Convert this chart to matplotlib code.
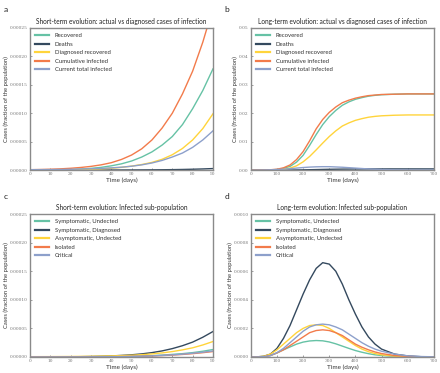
import numpy as np
import matplotlib as mpl
import matplotlib.pyplot as plt

plt.rcParams['font.family'] = ['Lato', 'DejaVu Sans']

# colours (Set2-like palette from the paper figure)
c_teal = '#66c2a5'
c_dark = '#34495e'
c_yellow = '#ffd43b'
c_orange = '#f27b4b'
c_blue = '#8da0cb'

# ---- short-term data, days 0..90 step 5 ----
t_short = list(range(0, 95, 5))
# actual vs diagnosed (panel a), in 1e-6
recovered_s = [0, 0.05, 0.2, 0.5, 1.0, 1.8, 3.0, 4.8, 7.5, 11, 16, 23, 32, 44, 59, 80, 108, 140, 178]
deaths_s = [0, 0, 0, 0.01, 0.02, 0.03, 0.05, 0.08, 0.12, 0.18, 0.26, 0.35, 0.45, 0.6, 0.8, 1.1, 1.5, 2.0, 2.7]
diag_recovered_s = [0, 0.02, 0.1, 0.25, 0.5, 0.9, 1.4, 2.2, 3.3, 4.8, 7, 9.8, 13.5, 19, 27, 38, 53, 73, 99]
cumulative_s = [0.7, 1.0, 1.5, 2.2, 3.2, 4.6, 6.5, 9.2, 13, 18.7, 26.5, 37.5, 53, 74, 100, 134, 174, 225, 285]
current_s = [0.7, 0.8, 0.9, 1.1, 1.4, 1.8, 2.3, 3.0, 3.9, 5.1, 6.8, 9.2, 12.5, 17, 23, 30, 40, 53, 69]
# infected sub-population (panel c), in 1e-6
symp_undet_s = [0.2, 0.22, 0.25, 0.3, 0.35, 0.42, 0.5, 0.62, 0.8, 1.0, 1.3, 1.7, 2.2, 3.2, 4.5, 5.8, 7.6, 10, 13]
symp_diag_s = [0, 0.05, 0.1, 0.2, 0.3, 0.5, 0.8, 1.2, 1.8, 2.7, 3.8, 5.4, 7.6, 10.6, 14.6, 19.7, 26, 34.5, 44.5]
asymp_undet_s = [0.5, 0.55, 0.6, 0.7, 0.8, 1.0, 1.2, 1.5, 1.9, 2.4, 3.0, 4.0, 5.3, 7.1, 9.4, 12.4, 16, 21, 27]
isolated_s = [0, 0.01, 0.02, 0.045, 0.07, 0.12, 0.18, 0.3, 0.45, 0.65, 0.9, 1.25, 1.8, 2.4, 3.3, 4.4, 5.8, 7.5, 9.5]
critical_s = [0, 0.01, 0.02, 0.05, 0.08, 0.13, 0.2, 0.33, 0.5, 0.72, 1.0, 1.4, 2.0, 2.7, 3.7, 4.9, 6.5, 8.3, 10.5]

# ---- long-term data, days ----
t_long = [0, 25, 50, 75, 100, 125, 150, 175, 200, 225, 250, 275, 300, 325, 350, 375, 400,
          425, 450, 475, 500, 550, 600, 650, 700]
recovered_l = [0, 0.000005, 0.00002, 0.00007, 0.0002, 0.0006, 0.0013, 0.0028, 0.0052, 0.0087, 0.0125,
               0.016, 0.0188, 0.021, 0.0228, 0.024, 0.0249, 0.0255, 0.026, 0.0263, 0.0265, 0.0267,
               0.0268, 0.0268, 0.0268]
deaths_l = [0, 0, 0, 0.000001, 0.000003, 0.00001, 0.00002, 0.00005, 0.00008, 0.00013, 0.00018, 0.00023,
            0.00028, 0.00031, 0.00034, 0.00036, 0.00038, 0.00039, 0.0004, 0.0004, 0.00041, 0.00041,
            0.00041, 0.00041, 0.00041]
diag_recovered_l = [0, 0.000002, 0.00001, 0.00004, 0.0001, 0.0003, 0.0007, 0.0015, 0.0029, 0.0048, 0.0071,
                    0.0095, 0.0118, 0.0138, 0.0155, 0.0166, 0.0175, 0.0181, 0.0186, 0.0189, 0.0191,
                    0.0193, 0.0194, 0.0194, 0.0194]
cumulative_l = [0, 0.00001, 0.00004, 0.00012, 0.0003, 0.0008, 0.0018, 0.0037, 0.0065, 0.0103, 0.0145,
                0.0178, 0.0203, 0.0222, 0.0237, 0.0246, 0.0253, 0.0258, 0.0262, 0.0264, 0.0266,
                0.0267, 0.0268, 0.0268, 0.0268]
current_l = [0, 0.00002, 0.00005, 0.0001, 0.0002, 0.00033, 0.0005, 0.0007, 0.0009, 0.00105, 0.00115,
             0.0012, 0.0012, 0.0011, 0.001, 0.00085, 0.0007, 0.00055, 0.0004, 0.0003, 0.0002, 0.0001,
             0.00004, 0.00001, 0]

symp_undet_l = [0, 0.0000005, 0.000003, 0.00001, 0.000028, 0.00005, 0.00007, 0.00009, 0.000104, 0.000112,
                0.000115, 0.000113, 0.000105, 0.000092, 0.000076, 0.00006, 0.000045, 0.000033, 0.000023,
                0.000015, 0.00001, 0.000004, 0.0000015, 0.0000005, 0]
symp_diag_l = [0, 0.000001, 0.000005, 0.00002, 0.00006, 0.00013, 0.00022, 0.00033, 0.00044, 0.00054,
               0.00062, 0.00066, 0.00065, 0.0006, 0.00051, 0.0004, 0.0003, 0.00021, 0.00014, 0.00009,
               0.000055, 0.00002, 0.000007, 0.000002, 0]
asymp_undet_l = [0, 0.000001, 0.000005, 0.00002, 0.00005, 0.00009, 0.00013, 0.00017, 0.0002, 0.00022,
                 0.000225, 0.00022, 0.0002, 0.00017, 0.00014, 0.00011, 0.00008, 0.000055, 0.000037,
                 0.000024, 0.000015, 0.000006, 0.000002, 0.0000005, 0]
isolated_l = [0, 0.0000003, 0.000002, 0.00001, 0.000028, 0.00005, 0.00008, 0.00011, 0.00014, 0.00017,
              0.000185, 0.00019, 0.000185, 0.00017, 0.00015, 0.00012, 0.00009, 0.000068, 0.00005,
              0.000035, 0.000024, 0.00001, 0.000004, 0.000001, 0]
critical_l = [0, 0.0000003, 0.000002, 0.00001, 0.00003, 0.00006, 0.0001, 0.00014, 0.00018, 0.00021,
              0.000225, 0.00023, 0.000225, 0.00021, 0.00019, 0.00016, 0.00013, 0.0001, 0.000075,
              0.000055, 0.00004, 0.00002, 0.000008, 0.000003, 0.000001]

labels_top = ['Recovered', 'Deaths', 'Diagnosed recovered', 'Cumulative infected', 'Current total infected']
labels_bot = ['Symptomatic, Undected', 'Symptomatic, Diagnosed', 'Asymptomatic, Undected', 'Isolated', 'Critical']
colors = [c_teal, c_dark, c_yellow, c_orange, c_blue]

fig = plt.figure(figsize=(4.4, 3.73), dpi=100)
fig.patch.set_facecolor('white')


def setup(ax, title, xlim, xticks, ylim, yticks, yfmt):
    ax.set_xlim(xlim)
    ax.set_ylim(ylim)
    ax.set_xticks(xticks)
    ax.set_yticks(yticks)
    ax.set_xticklabels([str(v) for v in xticks], family='DejaVu Serif', fontsize=3.2, color='#555555')
    ax.set_yticklabels([yfmt % v for v in yticks], family='DejaVu Serif', fontsize=3.2, color='#555555')
    ax.tick_params(direction='in', length=1.5, width=0.5, colors='#777777', pad=1.5)
    for s in ax.spines.values():
        s.set_color('#8a8a8a')
        s.set_linewidth(1.0)
    ax.set_title(title, fontsize=4.7, pad=2.8, color='#222222')
    ax.set_xlabel('Time (days)', fontsize=4.6, labelpad=1, color='#333333')
    ax.set_ylabel('Cases (fraction of the population)', fontsize=4.2, labelpad=0.5, color='#333333')


def draw(ax, t, series, labels, scale=1.0):
    for y, lab, col in zip(series, labels, colors):
        ax.plot(t, np.array(y) * scale, color=col, lw=1.0, label=lab)
    leg = ax.legend(loc='upper left', frameon=False, fontsize=4.3, handlelength=2.4,
                    labelspacing=0.55, borderaxespad=0.45, handletextpad=0.9)
    for h in leg.get_lines():
        h.set_linewidth(1.6)
    for txt in leg.get_texts():
        txt.set_color('#333333')


ax_a = fig.add_axes([0.068, 0.544, 0.416, 0.381])
draw(ax_a, t_short, [recovered_s, deaths_s, diag_recovered_s, cumulative_s, current_s], labels_top, 1e-6)
setup(ax_a, 'Short-term evolution: actual vs diagnosed cases of infection', (0, 90), list(range(0, 91, 10)),
      (0, 0.00025), [0, 0.00005, 0.0001, 0.00015, 0.0002, 0.00025], '%.5f')

ax_b = fig.add_axes([0.570, 0.544, 0.416, 0.381])
draw(ax_b, t_long, [recovered_l, deaths_l, diag_recovered_l, cumulative_l, current_l], labels_top)
setup(ax_b, 'Long-term evolution: actual vs diagnosed cases of infection', (0, 700), list(range(0, 701, 100)),
      (0, 0.05), [0, 0.01, 0.02, 0.03, 0.04, 0.05], '%.2f')

ax_c = fig.add_axes([0.068, 0.043, 0.416, 0.383])
draw(ax_c, t_short, [symp_undet_s, symp_diag_s, asymp_undet_s, isolated_s, critical_s], labels_bot, 1e-6)
setup(ax_c, 'Short-term evolution: Infected sub-population', (0, 90), list(range(0, 91, 10)),
      (0, 0.00025), [0, 0.00005, 0.0001, 0.00015, 0.0002, 0.00025], '%.5f')

ax_d = fig.add_axes([0.570, 0.043, 0.416, 0.383])
draw(ax_d, t_long, [symp_undet_l, symp_diag_l, asymp_undet_l, isolated_l, critical_l], labels_bot)
setup(ax_d, 'Long-term evolution: Infected sub-population', (0, 700), list(range(0, 701, 100)),
      (0, 0.001), [0, 0.0002, 0.0004, 0.0006, 0.0008, 0.001], '%.4f')

for lab, x, y in [('a', 0.009, 0.985), ('b', 0.511, 0.985), ('c', 0.009, 0.483), ('d', 0.511, 0.483)]:
    fig.text(x, y, lab, fontsize=6, va='top', ha='left', color='#222222')

fig.savefig('out.png', dpi=100)
